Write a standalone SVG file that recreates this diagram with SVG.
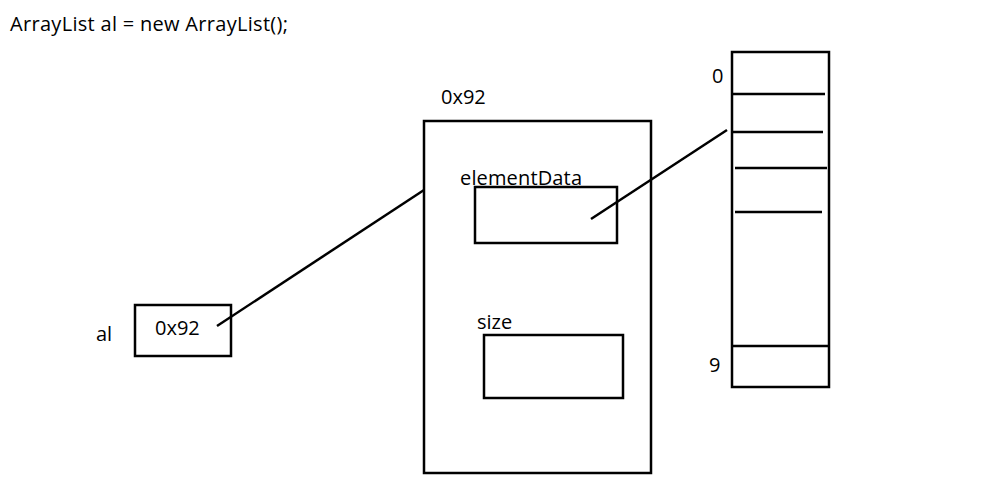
<svg xmlns="http://www.w3.org/2000/svg" width="994" height="495" viewBox="0 0 994 495">
<style>
.b{fill:none;stroke:#000;stroke-width:2.5}
.l{stroke:#000;stroke-width:2.5;fill:none}
text{font-family:"Open Sans","DejaVu Sans",sans-serif;font-size:20px;fill:#000}
</style>
<rect width="994" height="495" fill="#fff"/>
<text x="10" y="31" textLength="278">ArrayList al = new ArrayList();</text>
<g id="al">
<text x="96" y="341">al</text>
<rect class="b" x="135" y="305" width="96" height="51"/>
<text x="155" y="335">0x92</text>
</g>
<g id="object">
<text x="441" y="104">0x92</text>
<rect class="b" x="424" y="121" width="227" height="352"/>
<text x="460" y="185" textLength="122">elementData</text>
<rect class="b" x="475" y="187" width="142" height="56"/>
<text x="477" y="329">size</text>
<rect class="b" x="484" y="335" width="139" height="63"/>
</g>
<g id="array">
<text x="712" y="83">0</text>
<text x="709" y="372">9</text>
<rect class="b" x="732" y="52" width="97" height="335"/>
<line class="l" x1="732" y1="94" x2="825" y2="94"/>
<line class="l" x1="732" y1="132" x2="823" y2="132"/>
<line class="l" x1="735" y1="168" x2="827" y2="168"/>
<line class="l" x1="735" y1="212" x2="822" y2="212"/>
<line class="l" x1="732" y1="346" x2="829" y2="346"/>
</g>
<g id="connectors">
<line class="l" x1="217" y1="326" x2="424" y2="190"/>
<line class="l" x1="591" y1="219" x2="727" y2="130"/>
</g>
</svg>
